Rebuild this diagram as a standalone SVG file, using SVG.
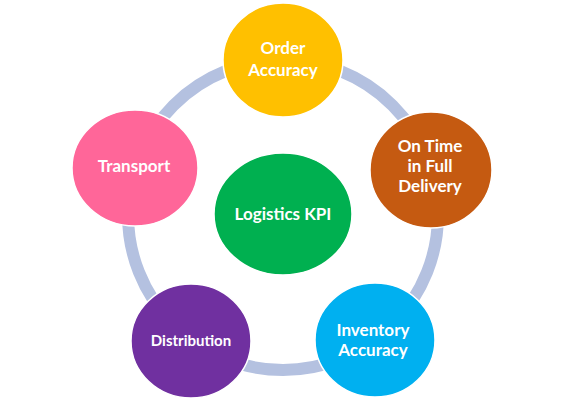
<svg xmlns="http://www.w3.org/2000/svg" width="562" height="402" viewBox="0 0 562 402">
<style>
.n{stroke:#ffffff;stroke-width:1.5}
.t{font-family:Lato,"Liberation Sans",sans-serif;font-weight:bold;font-size:17px;fill:#ffffff;text-anchor:middle}
.s{font-size:15px}
</style>
<rect width="562" height="402" fill="#ffffff"/>
<g id="connectors">
<circle cx="283" cy="215" r="155" fill="none" stroke="#b4c1e0" stroke-width="12"/>
</g>
<g id="order">
<ellipse class="n" cx="283" cy="60" rx="60" ry="57" fill="#ffc000"/>
<text class="t" x="283" y="54">Order</text>
<text class="t" x="283" y="76">Accuracy</text>
</g>
<g id="ontime">
<ellipse class="n" cx="431" cy="170" rx="61" ry="58" fill="#c55a11"/>
<text class="t" x="430" y="152">On Time</text>
<text class="t" x="430" y="172">in Full</text>
<text class="t" x="430" y="192">Delivery</text>
</g>
<g id="inventory">
<ellipse class="n" cx="375" cy="340" rx="60" ry="57" fill="#00b0f0"/>
<text class="t" x="373" y="336">Inventory</text>
<text class="t" x="373" y="356">Accuracy</text>
</g>
<g id="distribution">
<ellipse class="n" cx="191" cy="341" rx="60" ry="57" fill="#7030a0"/>
<text class="t s" x="191" y="346">Distribution</text>
</g>
<g id="transport">
<ellipse class="n" cx="135" cy="168" rx="63" ry="58" fill="#ff6699"/>
<text class="t" x="134" y="172">Transport</text>
</g>
<g id="center">
<ellipse class="n" cx="283" cy="214" rx="69" ry="61" fill="#00b050"/>
<text class="t" x="283" y="220">Logistics KPI</text>
</g>
</svg>
